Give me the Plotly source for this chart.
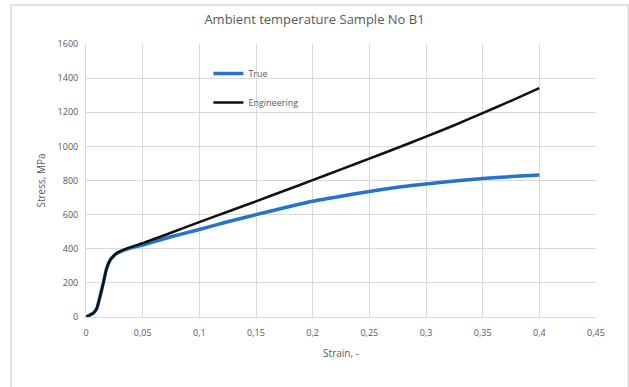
import plotly.graph_objects as go

strain = [0, 0.003, 0.0065, 0.0095, 0.012, 0.0153, 0.018, 0.021, 0.024, 0.027, 0.03, 0.035, 0.04,
          0.05, 0.075, 0.1, 0.125, 0.15, 0.175, 0.2, 0.225, 0.25, 0.275, 0.3, 0.325, 0.35, 0.375, 0.4]
true_stress = [0, 10, 23, 50, 110, 200, 280, 330, 355, 372, 382, 395, 405,
               422, 470, 513, 558, 600, 640, 678, 708, 736, 760, 780, 797, 812, 823, 832]
eng_stress = [0, 10, 23, 50, 110, 200, 280, 331, 357, 374, 385, 399, 411,
              432, 494, 556, 617, 678, 740, 802, 865, 928, 992, 1057, 1124, 1195, 1267, 1342]

x_ticks = [0, 0.05, 0.1, 0.15, 0.2, 0.25, 0.3, 0.35, 0.4, 0.45]
x_labels = ["0", "0,05", "0,1", "0,15", "0,2", "0,25", "0,3", "0,35", "0,4", "0,45"]
y_ticks = [0, 200, 400, 600, 800, 1000, 1200, 1400, 1600]

font = "Open Sans"
gray = "#595959"

fig = go.Figure()
fig.add_trace(go.Scatter(x=strain, y=true_stress, name="True", mode="lines", legendgroup="a",
                         line=dict(color="#2474cc", width=3.5, shape="spline", smoothing=0.6)))
fig.add_trace(go.Scatter(x=strain, y=eng_stress, name="Engineering", mode="lines", legendgroup="b",
                         line=dict(color="#111111", width=2.5, shape="spline", smoothing=0.6)))

fig.update_layout(
    width=629, height=387,
    margin=dict(l=86, r=33, t=44, b=70),
    paper_bgcolor="white", plot_bgcolor="white",
    title=dict(text="Ambient temperature Sample No B1", x=0.5, xanchor="center",
               y=0.95, yanchor="middle", font=dict(family=font, size=13, color=gray)),
    font=dict(family=font, color=gray),
    legend=dict(x=0.24, y=0.945, xanchor="left", yanchor="top", bgcolor="rgba(0,0,0,0)",
                font=dict(size=9, color=gray), tracegroupgap=10, itemwidth=30),
    xaxis=dict(range=[0, 0.45], tickvals=x_ticks, ticktext=x_labels,
               showgrid=True, gridcolor="#d9d9d9", gridwidth=1,
               showline=True, linecolor="#d9d9d9", zeroline=False,
               ticks="", tickfont=dict(size=9, color=gray), ticklabelstandoff=7,
               title=dict(text="Strain, -", font=dict(size=10, color=gray), standoff=12)),
    yaxis=dict(range=[0, 1600], tickvals=y_ticks,
               showgrid=True, gridcolor="#d9d9d9", gridwidth=1,
               showline=True, linecolor="#d9d9d9", zeroline=False,
               ticks="", tickfont=dict(size=9, color=gray), ticklabelstandoff=5,
               title=dict(text="Stress, MPa", font=dict(size=10, color=gray), standoff=10)),
    shapes=[dict(type="rect", xref="paper", yref="paper", x0=-0.147, x1=1.063, y0=-0.3, y1=1.143,
                 line=dict(color="#d9d9d9", width=1.5), fillcolor="rgba(0,0,0,0)", layer="below")],
)

fig.write_html("out.html")
